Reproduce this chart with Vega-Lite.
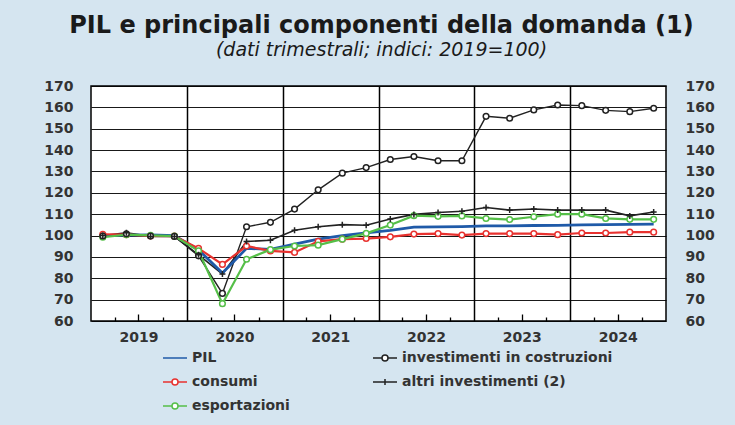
{
  "$schema": "https://vega.github.io/schema/vega-lite/v6.json",
  "width": 575,
  "height": 235,
  "autosize": {"type": "none"},
  "padding": {"left": 91, "top": 86, "right": 69, "bottom": 104},
  "background": "#d5e5f0",
  "config": {
    "font": "DejaVu Sans",
    "view": {"fill": "white", "stroke": "black", "strokeWidth": 1.5},
    "axis": {"labelFont": "DejaVu Sans", "labelFontWeight": "bold", "labelFontSize": 14, "labelColor": "#333333", "domain": false, "title": null},
    "legend": {
      "title": null,
      "orient": "none",
      "legendX": 71,
      "legendY": 259,
      "direction": "horizontal",
      "columns": 2,
      "columnPadding": 80,
      "rowPadding": 4,
      "symbolSize": 576,
      "labelFont": "DejaVu Sans",
      "labelFontSize": 14,
      "labelFontWeight": "bold",
      "labelColor": "#333333",
      "labelLimit": 300,
      "labelOffset": 4
    }
  },
  "title": {
    "text": "PIL e principali componenti della domanda (1)",
    "subtitle": "(dati trimestrali; indici: 2019=100)",
    "font": "DejaVu Sans",
    "fontSize": 24,
    "fontWeight": "bold",
    "color": "#1a1a1a",
    "subtitleFont": "DejaVu Sans",
    "subtitleFontSize": 19,
    "subtitleFontStyle": "italic",
    "subtitleColor": "#1a1a1a",
    "subtitlePadding": 3,
    "anchor": "middle",
    "frame": "group",
    "offset": 19,
    "dx": 3
  },
  "data": {
    "values": [
      {"data": "2019-02-15", "serie": "PIL", "valore": 100},
      {"data": "2019-05-16", "serie": "PIL", "valore": 100.2},
      {"data": "2019-08-16", "serie": "PIL", "valore": 100.3},
      {"data": "2019-11-15", "serie": "PIL", "valore": 99.9},
      {"data": "2020-02-15", "serie": "PIL", "valore": 93.3},
      {"data": "2020-05-16", "serie": "PIL", "valore": 82.5},
      {"data": "2020-08-16", "serie": "PIL", "valore": 94},
      {"data": "2020-11-15", "serie": "PIL", "valore": 93.5},
      {"data": "2021-02-15", "serie": "PIL", "valore": 96},
      {"data": "2021-05-16", "serie": "PIL", "valore": 98.3},
      {"data": "2021-08-16", "serie": "PIL", "valore": 100},
      {"data": "2021-11-15", "serie": "PIL", "valore": 101.3},
      {"data": "2022-02-15", "serie": "PIL", "valore": 102.4},
      {"data": "2022-05-16", "serie": "PIL", "valore": 103.9},
      {"data": "2022-08-16", "serie": "PIL", "valore": 104.1},
      {"data": "2022-11-15", "serie": "PIL", "valore": 104.2},
      {"data": "2023-02-15", "serie": "PIL", "valore": 104.5},
      {"data": "2023-05-16", "serie": "PIL", "valore": 104.5},
      {"data": "2023-08-16", "serie": "PIL", "valore": 104.7},
      {"data": "2023-11-15", "serie": "PIL", "valore": 104.8},
      {"data": "2024-02-15", "serie": "PIL", "valore": 105},
      {"data": "2024-05-16", "serie": "PIL", "valore": 105.1},
      {"data": "2024-08-16", "serie": "PIL", "valore": 105.2},
      {"data": "2024-11-15", "serie": "PIL", "valore": 105.3},

      {"data": "2019-02-15", "serie": "consumi", "valore": 100.6},
      {"data": "2019-05-16", "serie": "consumi", "valore": 100.4},
      {"data": "2019-08-16", "serie": "consumi", "valore": 99.8},
      {"data": "2019-11-15", "serie": "consumi", "valore": 99.7},
      {"data": "2020-02-15", "serie": "consumi", "valore": 94},
      {"data": "2020-05-16", "serie": "consumi", "valore": 86.5},
      {"data": "2020-08-16", "serie": "consumi", "valore": 95.1},
      {"data": "2020-11-15", "serie": "consumi", "valore": 92.8},
      {"data": "2021-02-15", "serie": "consumi", "valore": 92.1},
      {"data": "2021-05-16", "serie": "consumi", "valore": 97.3},
      {"data": "2021-08-16", "serie": "consumi", "valore": 98.3},
      {"data": "2021-11-15", "serie": "consumi", "valore": 98.6},
      {"data": "2022-02-15", "serie": "consumi", "valore": 99.4},
      {"data": "2022-05-16", "serie": "consumi", "valore": 100.7},
      {"data": "2022-08-16", "serie": "consumi", "valore": 100.9},
      {"data": "2022-11-15", "serie": "consumi", "valore": 100.2},
      {"data": "2023-02-15", "serie": "consumi", "valore": 100.9},
      {"data": "2023-05-16", "serie": "consumi", "valore": 100.9},
      {"data": "2023-08-16", "serie": "consumi", "valore": 100.9},
      {"data": "2023-11-15", "serie": "consumi", "valore": 100.4},
      {"data": "2024-02-15", "serie": "consumi", "valore": 101.2},
      {"data": "2024-05-16", "serie": "consumi", "valore": 101.2},
      {"data": "2024-08-16", "serie": "consumi", "valore": 101.6},
      {"data": "2024-11-15", "serie": "consumi", "valore": 101.6},

      {"data": "2019-02-15", "serie": "esportazioni", "valore": 99.2},
      {"data": "2019-05-16", "serie": "esportazioni", "valore": 100.4},
      {"data": "2019-08-16", "serie": "esportazioni", "valore": 100.1},
      {"data": "2019-11-15", "serie": "esportazioni", "valore": 99.7},
      {"data": "2020-02-15", "serie": "esportazioni", "valore": 92.8},
      {"data": "2020-05-16", "serie": "esportazioni", "valore": 68.1},
      {"data": "2020-08-16", "serie": "esportazioni", "valore": 88.9},
      {"data": "2020-11-15", "serie": "esportazioni", "valore": 93.4},
      {"data": "2021-02-15", "serie": "esportazioni", "valore": 95.1},
      {"data": "2021-05-16", "serie": "esportazioni", "valore": 95.5},
      {"data": "2021-08-16", "serie": "esportazioni", "valore": 98.3},
      {"data": "2021-11-15", "serie": "esportazioni", "valore": 101},
      {"data": "2022-02-15", "serie": "esportazioni", "valore": 104.9},
      {"data": "2022-05-16", "serie": "esportazioni", "valore": 109.3},
      {"data": "2022-08-16", "serie": "esportazioni", "valore": 109},
      {"data": "2022-11-15", "serie": "esportazioni", "valore": 109.2},
      {"data": "2023-02-15", "serie": "esportazioni", "valore": 108},
      {"data": "2023-05-16", "serie": "esportazioni", "valore": 107.5},
      {"data": "2023-08-16", "serie": "esportazioni", "valore": 108.8},
      {"data": "2023-11-15", "serie": "esportazioni", "valore": 110},
      {"data": "2024-02-15", "serie": "esportazioni", "valore": 110},
      {"data": "2024-05-16", "serie": "esportazioni", "valore": 108},
      {"data": "2024-08-16", "serie": "esportazioni", "valore": 107.6},
      {"data": "2024-11-15", "serie": "esportazioni", "valore": 107.6},

      {"data": "2019-02-15", "serie": "investimenti in costruzioni", "valore": 99.8},
      {"data": "2019-05-16", "serie": "investimenti in costruzioni", "valore": 100.8},
      {"data": "2019-08-16", "serie": "investimenti in costruzioni", "valore": 99.8},
      {"data": "2019-11-15", "serie": "investimenti in costruzioni", "valore": 99.6},
      {"data": "2020-02-15", "serie": "investimenti in costruzioni", "valore": 90.5},
      {"data": "2020-05-16", "serie": "investimenti in costruzioni", "valore": 72.9},
      {"data": "2020-08-16", "serie": "investimenti in costruzioni", "valore": 104.1},
      {"data": "2020-11-15", "serie": "investimenti in costruzioni", "valore": 106.2},
      {"data": "2021-02-15", "serie": "investimenti in costruzioni", "valore": 112.4},
      {"data": "2021-05-16", "serie": "investimenti in costruzioni", "valore": 121.4},
      {"data": "2021-08-16", "serie": "investimenti in costruzioni", "valore": 129.2},
      {"data": "2021-11-15", "serie": "investimenti in costruzioni", "valore": 131.8},
      {"data": "2022-02-15", "serie": "investimenti in costruzioni", "valore": 135.6},
      {"data": "2022-05-16", "serie": "investimenti in costruzioni", "valore": 137},
      {"data": "2022-08-16", "serie": "investimenti in costruzioni", "valore": 135},
      {"data": "2022-11-15", "serie": "investimenti in costruzioni", "valore": 135},
      {"data": "2023-02-15", "serie": "investimenti in costruzioni", "valore": 155.8},
      {"data": "2023-05-16", "serie": "investimenti in costruzioni", "valore": 154.9},
      {"data": "2023-08-16", "serie": "investimenti in costruzioni", "valore": 158.8},
      {"data": "2023-11-15", "serie": "investimenti in costruzioni", "valore": 161.1},
      {"data": "2024-02-15", "serie": "investimenti in costruzioni", "valore": 160.8},
      {"data": "2024-05-16", "serie": "investimenti in costruzioni", "valore": 158.6},
      {"data": "2024-08-16", "serie": "investimenti in costruzioni", "valore": 158},
      {"data": "2024-11-15", "serie": "investimenti in costruzioni", "valore": 159.6},

      {"data": "2019-02-15", "serie": "altri investimenti (2)", "valore": 100},
      {"data": "2019-05-16", "serie": "altri investimenti (2)", "valore": 101.3},
      {"data": "2019-08-16", "serie": "altri investimenti (2)", "valore": 99.6},
      {"data": "2019-11-15", "serie": "altri investimenti (2)", "valore": 99.6},
      {"data": "2020-02-15", "serie": "altri investimenti (2)", "valore": 91},
      {"data": "2020-05-16", "serie": "altri investimenti (2)", "valore": 82},
      {"data": "2020-08-16", "serie": "altri investimenti (2)", "valore": 97.2},
      {"data": "2020-11-15", "serie": "altri investimenti (2)", "valore": 97.8},
      {"data": "2021-02-15", "serie": "altri investimenti (2)", "valore": 102.5},
      {"data": "2021-05-16", "serie": "altri investimenti (2)", "valore": 104.1},
      {"data": "2021-08-16", "serie": "altri investimenti (2)", "valore": 105.1},
      {"data": "2021-11-15", "serie": "altri investimenti (2)", "valore": 104.8},
      {"data": "2022-02-15", "serie": "altri investimenti (2)", "valore": 107.7},
      {"data": "2022-05-16", "serie": "altri investimenti (2)", "valore": 109.9},
      {"data": "2022-08-16", "serie": "altri investimenti (2)", "valore": 110.8},
      {"data": "2022-11-15", "serie": "altri investimenti (2)", "valore": 111.4},
      {"data": "2023-02-15", "serie": "altri investimenti (2)", "valore": 113.1},
      {"data": "2023-05-16", "serie": "altri investimenti (2)", "valore": 111.9},
      {"data": "2023-08-16", "serie": "altri investimenti (2)", "valore": 112.4},
      {"data": "2023-11-15", "serie": "altri investimenti (2)", "valore": 111.9},
      {"data": "2024-02-15", "serie": "altri investimenti (2)", "valore": 111.9},
      {"data": "2024-05-16", "serie": "altri investimenti (2)", "valore": 111.9},
      {"data": "2024-08-16", "serie": "altri investimenti (2)", "valore": 109.2},
      {"data": "2024-11-15", "serie": "altri investimenti (2)", "valore": 111}
    ]
  },
  "encoding": {
    "x": {
      "field": "data",
      "type": "temporal",
      "scale": {"type": "utc", "domain": [{"year": 2019, "month": 1, "date": 1, "utc": true}, {"year": 2025, "month": 1, "date": 1, "utc": true}]},
      "axis": {
        "values": [
          {"year": 2019, "month": 4, "date": 1, "utc": true},
          {"year": 2019, "month": 7, "date": 1, "utc": true},
          {"year": 2019, "month": 10, "date": 1, "utc": true},
          {"year": 2020, "month": 1, "date": 1, "utc": true},
          {"year": 2020, "month": 4, "date": 1, "utc": true},
          {"year": 2020, "month": 7, "date": 1, "utc": true},
          {"year": 2020, "month": 10, "date": 1, "utc": true},
          {"year": 2021, "month": 1, "date": 1, "utc": true},
          {"year": 2021, "month": 4, "date": 1, "utc": true},
          {"year": 2021, "month": 7, "date": 1, "utc": true},
          {"year": 2021, "month": 10, "date": 1, "utc": true},
          {"year": 2022, "month": 1, "date": 1, "utc": true},
          {"year": 2022, "month": 4, "date": 1, "utc": true},
          {"year": 2022, "month": 7, "date": 1, "utc": true},
          {"year": 2022, "month": 10, "date": 1, "utc": true},
          {"year": 2023, "month": 1, "date": 1, "utc": true},
          {"year": 2023, "month": 4, "date": 1, "utc": true},
          {"year": 2023, "month": 7, "date": 1, "utc": true},
          {"year": 2023, "month": 10, "date": 1, "utc": true},
          {"year": 2024, "month": 1, "date": 1, "utc": true},
          {"year": 2024, "month": 4, "date": 1, "utc": true},
          {"year": 2024, "month": 7, "date": 1, "utc": true},
          {"year": 2024, "month": 10, "date": 1, "utc": true}
        ],
        "labelExpr": "utcmonth(datum.value) == 6 ? utcFormat(datum.value, '%Y') : ''",
        "labelPadding": 16,
        "grid": true,
        "gridColor": "black",
        "gridWidth": 1.5,
        "gridOpacity": {"condition": {"test": "utcmonth(datum.value) == 0", "value": 1}, "value": 0},
        "ticks": true,
        "tickColor": "black",
        "tickWidth": 1.3,
        "tickSize": {"condition": {"test": "utcmonth(datum.value) == 6", "value": -7}, "value": -4},
        "tickOpacity": {"condition": {"test": "utcmonth(datum.value) == 0", "value": 0}, "value": 1}
      }
    },
    "color": {
      "field": "serie",
      "type": "nominal",
      "scale": {"domain": ["PIL", "investimenti in costruzioni", "consumi", "altri investimenti (2)", "esportazioni"], "range": ["#1f5aa8", "#222222", "#e8322f", "#222222", "#55bf48"]}
    }
  },
  "layer": [
    {
      "transform": [{"filter": {"field": "serie", "equal": "investimenti in costruzioni"}}],
      "mark": {"type": "line", "strokeWidth": 1.4},
      "encoding": {
        "y": {
          "field": "valore",
          "type": "quantitative",
          "scale": {"domain": [60, 170], "nice": false, "zero": false},
          "axis": {"orient": "left", "values": [60, 70, 80, 90, 100, 110, 120, 130, 140, 150, 160, 170], "grid": true, "gridColor": "black", "gridWidth": 1, "gridOpacity": 0.9, "ticks": false, "labelPadding": 18}
        }
      }
    },
    {
      "transform": [{"filter": {"field": "serie", "equal": "altri investimenti (2)"}}],
      "mark": {"type": "line", "strokeWidth": 1.6},
      "encoding": {
        "y": {"field": "valore", "type": "quantitative", "axis": null}
      }
    },
    {
      "transform": [{"filter": {"field": "serie", "equal": "PIL"}}],
      "mark": {"type": "line", "strokeWidth": 2.8},
      "encoding": {
        "y": {"field": "valore", "type": "quantitative", "axis": null}
      }
    },
    {
      "transform": [{"filter": {"field": "serie", "oneOf": ["consumi", "esportazioni"]}}],
      "mark": {"type": "line", "strokeWidth": 2.2},
      "encoding": {
        "y": {"field": "valore", "type": "quantitative", "axis": null}
      }
    },
    {
      "transform": [{"filter": {"field": "serie", "oneOf": ["consumi", "esportazioni", "investimenti in costruzioni"]}}],
      "mark": {"type": "point", "shape": "circle", "filled": false, "fill": "white", "fillOpacity": 1, "opacity": 1, "size": 32, "strokeWidth": 1.5},
      "encoding": {
        "y": {
          "field": "valore",
          "type": "quantitative",
          "axis": {"orient": "right", "values": [60, 70, 80, 90, 100, 110, 120, 130, 140, 150, 160, 170], "grid": false, "ticks": false, "labelPadding": 19}
        }
      }
    },
    {
      "transform": [{"filter": {"field": "serie", "equal": "altri investimenti (2)"}}],
      "mark": {"type": "point", "shape": "M-1,0H1M0,-1V1", "filled": false, "opacity": 1, "size": 36, "strokeWidth": 1.5},
      "encoding": {
        "y": {"field": "valore", "type": "quantitative", "axis": null}
      }
    },
    {
      "transform": [{"filter": "false"}],
      "mark": {"type": "point", "filled": false, "opacity": 1},
      "encoding": {
        "y": {"field": "valore", "type": "quantitative", "axis": null},
        "shape": {
          "field": "serie",
          "type": "nominal",
          "scale": {
            "domain": ["PIL", "investimenti in costruzioni", "consumi", "altri investimenti (2)", "esportazioni"],
            "range": [
              "M-1,0H1",
              "M-1,0H-0.25M0.25,0H1M-0.25,0A0.25,0.25 0 1,1 0.25,0A0.25,0.25 0 1,1 -0.25,0",
              "M-1,0H-0.25M0.25,0H1M-0.25,0A0.25,0.25 0 1,1 0.25,0A0.25,0.25 0 1,1 -0.25,0",
              "M-1,0H1M0,-0.25V0.25",
              "M-1,0H-0.25M0.25,0H1M-0.25,0A0.25,0.25 0 1,1 0.25,0A0.25,0.25 0 1,1 -0.25,0"
            ]
          },
          "legend": {
            "encode": {"symbols": {"update": {"fill": {"value": "white"}, "fillOpacity": {"value": 1}, "strokeWidth": {"signal": "datum.value == 'PIL' ? 2.8 : 1.6"}}}}
          }
        }
      }
    }
  ],
  "resolve": {"axis": {"y": "independent"}}
}
